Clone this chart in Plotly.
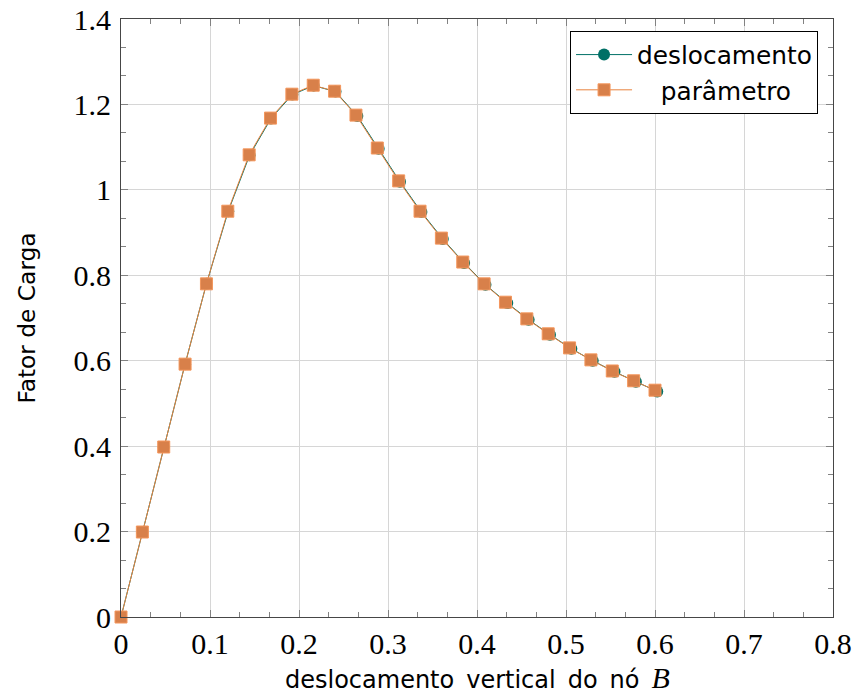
import plotly.graph_objects as go

# Load-factor path of node B: vertical displacement vs. load factor,
# computed with displacement control and with arc-length (parameter) control.
x_param = [0.0, 0.024, 0.048, 0.072, 0.096, 0.120, 0.144, 0.168, 0.192, 0.216,
           0.240, 0.264, 0.288, 0.312, 0.336, 0.360, 0.384, 0.408, 0.432, 0.456,
           0.480, 0.504, 0.528, 0.552, 0.576, 0.600]
y_param = [0.0, 0.199, 0.398, 0.592, 0.780, 0.950, 1.082, 1.168, 1.224, 1.245,
           1.231, 1.175, 1.098, 1.021, 0.950, 0.887, 0.831, 0.780, 0.737, 0.698,
           0.663, 0.630, 0.602, 0.576, 0.553, 0.531]

x_desl = [0.0, 0.024, 0.048, 0.072, 0.096, 0.1205, 0.1445, 0.1685, 0.1925, 0.2165,
          0.2410, 0.2655, 0.2895, 0.3135, 0.3375, 0.3615, 0.3855, 0.4095, 0.4340, 0.4580,
          0.4820, 0.5060, 0.5300, 0.5545, 0.5785, 0.6025]
y_desl = [0.0, 0.199, 0.398, 0.592, 0.780, 0.950, 1.081, 1.167, 1.223, 1.244,
          1.230, 1.173, 1.096, 1.019, 0.948, 0.885, 0.829, 0.778, 0.735, 0.696,
          0.661, 0.628, 0.600, 0.574, 0.551, 0.528]

x_ticks = [0, 0.1, 0.2, 0.3, 0.4, 0.5, 0.6, 0.7, 0.8]
x_tick_text = ["0", "0.1", "0.2", "0.3", "0.4", "0.5", "0.6", "0.7", "0.8"]
y_ticks = [0, 0.2, 0.4, 0.6, 0.8, 1.0, 1.2, 1.4]
y_tick_text = ["0", "0.2", "0.4", "0.6", "0.8", "1", "1.2", "1.4"]

TEAL = "rgb(0,112,102)"
ORANGE_LINE = "rgb(232,130,62)"
ORANGE_FILL = "rgb(216,128,74)"
ORANGE_EDGE = "rgb(244,150,92)"
SANS = "DejaVu Sans"
SERIF = "Liberation Serif"

fig = go.Figure()
fig.add_trace(go.Scatter(
    x=x_desl, y=y_desl, mode="lines+markers", name="deslocamento",
    line=dict(color=TEAL, width=1), cliponaxis=False,
    marker=dict(symbol="circle", size=12, color=TEAL, line=dict(width=0)),
))
fig.add_trace(go.Scatter(
    x=x_param, y=y_param, mode="lines+markers",
    name="\u00a0\u00a0\u00a0parâmetro",
    line=dict(color=ORANGE_LINE, width=1), cliponaxis=False,
    marker=dict(symbol="square", size=12, color=ORANGE_FILL,
                line=dict(width=1, color=ORANGE_EDGE)),
))

axis_common = dict(
    automargin=False,
    showline=True, linecolor="rgb(70,70,70)", linewidth=1, mirror="allticks",
    ticks="inside", ticklen=7, tickwidth=1, tickcolor="rgb(130,130,130)",
    showgrid=True, gridcolor="rgb(214,214,214)", gridwidth=1,
    zeroline=False,
    tickfont=dict(family=SERIF, size=30, color="black"),
)

fig.update_xaxes(
    range=[0, 0.8], tickmode="array", tickvals=x_ticks, ticktext=x_tick_text,
    minor=dict(ticks="inside", ticklen=5, tick0=0, dtick=0.1 / 3,
               tickcolor="rgb(130,130,130)", showgrid=False),
    **axis_common,
)
fig.update_yaxes(
    range=[0, 1.4], tickmode="array", tickvals=y_ticks, ticktext=y_tick_text,
    minor=dict(ticks="inside", ticklen=5, tick0=0, dtick=0.2 / 3,
               tickcolor="rgb(130,130,130)", showgrid=False),
    ticklabelstandoff=3,
    title=dict(text="Fator de Carga", font=dict(family=SANS, size=23.3, color="black"),
               standoff=31),
    **axis_common,
)

# x-axis title placed just below the tick labels
fig.add_annotation(
    xref="paper", yref="paper", x=0.5, y=0, xanchor="center", yanchor="top",
    yshift=-42, showarrow=False,
    text="deslocamento\u2002vertical\u2002do\u2002nó\u2002"
         "<span style='font-family:Liberation Serif;font-style:italic;font-size:30px'>B</span>",
    font=dict(family=SANS, size=24, color="black"),
)

fig.update_layout(
    width=857, height=699,
    margin=dict(l=121, r=24, t=19, b=82),
    paper_bgcolor="white", plot_bgcolor="white",
    showlegend=True,
    legend=dict(
        x=0.979, y=0.98, xanchor="right", yanchor="top",
        bgcolor="white", bordercolor="black", borderwidth=1,
        font=dict(family=SANS, size=24.8, color="black"),
        tracegroupgap=0, itemwidth=56,
    ),
)

fig.write_html("out.html")
